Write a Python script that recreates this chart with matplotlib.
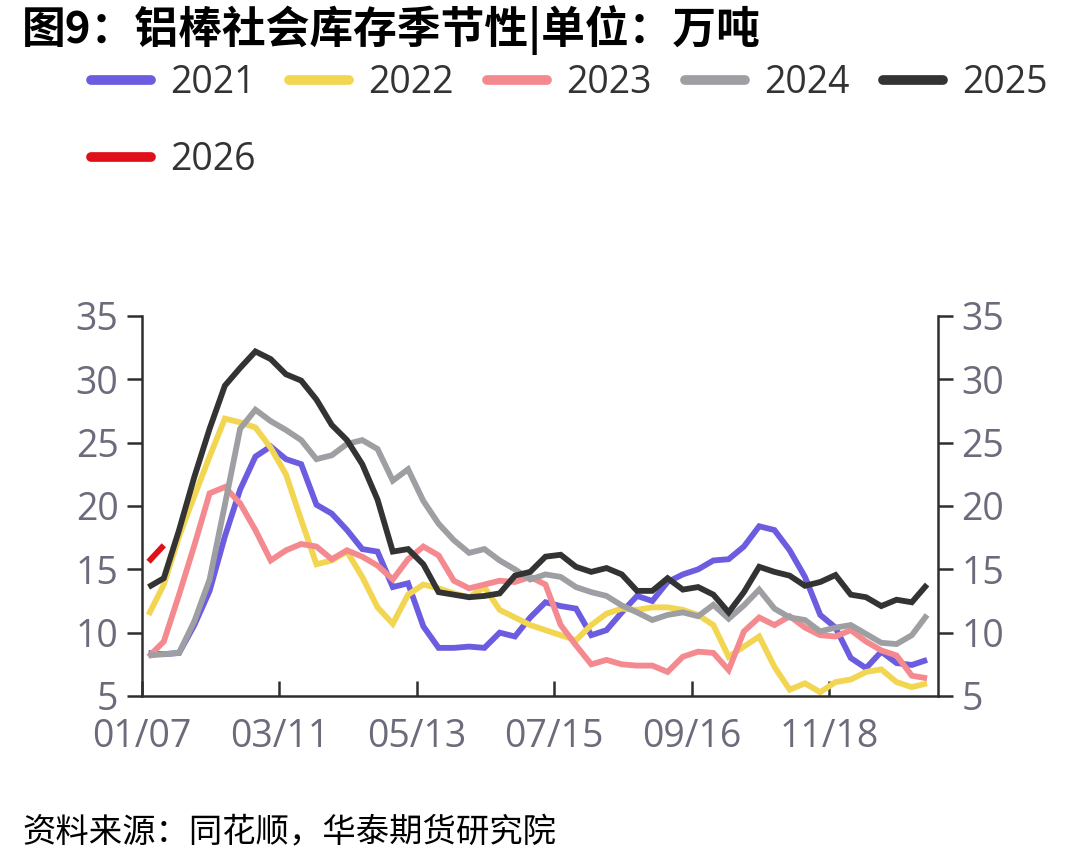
import numpy as np
import matplotlib
matplotlib.use("Agg")
import matplotlib.pyplot as plt

plt.rcParams['font.family'] = ['Noto Sans CJK SC', 'DejaVu Sans']

# weekly readings, 万吨
Y2021 = [8.4, 8.3, 8.4, 10.6, 13.3, 17.6, 21.3, 23.9, 24.7, 23.7,
         23.3, 20.1, 19.4, 18.1, 16.6, 16.4, 13.6, 13.9, 10.5, 8.8,
         8.8, 8.9, 8.8, 10.0, 9.7, 11.2, 12.4, 12.1, 11.9, 9.8,
         10.2, 11.6, 12.9, 12.5, 14.0, 14.6, 15.0, 15.7, 15.8, 16.8,
         18.4, 18.1, 16.5, 14.4, 11.4, 10.4, 8.0, 7.2, 8.5, 7.6,
         7.45, 7.85]
Y2022 = [11.4, 13.8, 17.6, 20.8, 23.9, 26.9, 26.6, 26.2, 24.6, 22.5,
         18.9, 15.4, 15.7, 16.4, 14.4, 12.0, 10.7, 13.0, 13.8, 13.5,
         13.1, 12.8, 13.6, 11.8, 11.2, 10.6, 10.2, 9.8, 9.4, 10.6,
         11.5, 11.9, 11.8, 12.0, 12.0, 11.8, 11.4, 10.6, 8.1, 8.9,
         9.7, 7.3, 5.5, 6.0, 5.3, 6.1, 6.3, 6.9, 7.1, 6.1,
         5.7, 6.0]
Y2023 = [8.1, 9.3, 13.0, 16.9, 21.0, 21.5, 20.2, 18.1, 15.7, 16.5,
         17.0, 16.8, 15.8, 16.5, 16.0, 15.3, 14.2, 15.8, 16.8, 16.1,
         14.1, 13.5, 13.8, 14.1, 14.0, 14.4, 13.8, 10.6, 9.0, 7.5,
         7.85, 7.5, 7.4, 7.4, 6.9, 8.1, 8.5, 8.4, 7.05, 10.1,
         11.2, 10.6, 11.3, 10.4, 9.8, 9.7, 10.2, 9.3, 8.6, 8.2,
         6.6, 6.4]
Y2024 = [8.2, 8.3, 8.4, 10.9, 14.2, 20.1, 26.1, 27.6, 26.7, 26.0,
         25.2, 23.7, 24.0, 24.9, 25.2, 24.5, 22.0, 22.9, 20.4, 18.6,
         17.3, 16.3, 16.6, 15.7, 15.0, 14.2, 14.6, 14.4, 13.6, 13.2,
         12.9, 12.15, 11.6, 11.0, 11.4, 11.6, 11.3, 12.2, 11.1, 12.15,
         13.4, 11.9, 11.2, 11.0, 10.1, 10.4, 10.6, 9.9, 9.2, 9.1,
         9.8, 11.4]
Y2025 = [13.6, 14.3, 18.1, 22.3, 26.1, 29.5, 30.9, 32.2, 31.6, 30.4,
         29.9, 28.4, 26.4, 25.2, 23.3, 20.5, 16.4, 16.6, 15.4, 13.2,
         13.0, 12.8, 12.9, 13.1, 14.5, 14.8, 16.0, 16.15, 15.2, 14.8,
         15.1, 14.6, 13.3, 13.3, 14.3, 13.4, 13.6, 13.0, 11.6, 13.2,
         15.2, 14.8, 14.5, 13.7, 14.0, 14.55, 13.0, 12.8, 12.1, 12.6,
         12.4, 13.8]
Y2026 = [15.6, 16.9]

YEARS = ["2021", "2022", "2023", "2024", "2025", "2026"]
SERIES = [Y2021, Y2022, Y2023, Y2024, Y2025, Y2026]
COLORS = ["#6C5CE0", "#F2D652", "#F48A8F", "#9D9FA2", "#333333", "#E0101A"]

TICK_DAYS = [6, 69, 132, 195, 258, 321]
TICK_LABELS = ["01/07", "03/11", "05/13", "07/15", "09/16", "11/18"]

TICK_COLOR = "#6B6B7B"
SPINE_COLOR = "#2E2E2E"
LATIN = ["Open Sans", "DejaVu Sans"]

fig = plt.figure(figsize=(10.78, 8.66), dpi=100)
ax = fig.add_axes([142 / 1078, 1 - 696 / 866, (938 - 142) / 1078, (696 - 316) / 866])

lines = {}
for year, values, color in zip(YEARS, SERIES, COLORS):
    days = 9 + 7 * np.arange(len(values))
    lines[year], = ax.plot(days, values, color=color, lw=4.2, label=year,
                           solid_joinstyle="miter", solid_capstyle="butt")

ax.set_xlim(6, 371)
ax.set_ylim(5, 35)
ax.set_yticks(range(5, 36, 5))
ax.set_xticks(TICK_DAYS)
ax.set_xticklabels(TICK_LABELS)

ax.spines["top"].set_visible(False)
for side in ("left", "right", "bottom"):
    ax.spines[side].set_color(SPINE_COLOR)
    ax.spines[side].set_linewidth(1.8)

ax.tick_params(axis="y", direction="out", length=11, width=1.8,
               color=SPINE_COLOR, left=True, right=True,
               labelleft=True, labelright=True, pad=6,
               labelsize=27, labelcolor=TICK_COLOR)
ax.tick_params(axis="x", direction="in", length=11, width=1.8,
               color=SPINE_COLOR, pad=16, labelsize=27, labelcolor=TICK_COLOR)
for lab in ax.get_xticklabels() + ax.yaxis.get_ticklabels():
    lab.set_fontfamily(LATIN)
for tick in ax.yaxis.get_major_ticks():
    tick.label2.set_fontfamily(LATIN)

fig.text(22 / 1078, 1 - 30 / 866, "图9：铝棒社会库存季节性|单位：万吨",
         fontsize=31.5, fontweight="bold", color="black", va="center", ha="left")

# legend fills column-wise; order so rows read 2021..2025, then 2026
order = ["2021", "2026", "2022", "2023", "2024", "2025"]
leg = fig.legend([lines[y] for y in order], order,
                 loc="upper left", bbox_to_anchor=(91 / 1078, 1 - 64 / 866),
                 ncol=5, frameon=False, handlelength=1.6,
                 handletextpad=0.5, columnspacing=0.9, labelspacing=1.05,
                 borderpad=0, borderaxespad=0,
                 prop={"family": LATIN, "size": 27})
for line in leg.get_lines():
    line.set_linewidth(7)
    line.set_solid_capstyle("round")
for t in leg.get_texts():
    t.set_color("#333333")

fig.text(22 / 1078, 1 - 833 / 866, "资料来源：同花顺，华泰期货研究院",
         fontsize=24, style="italic", color="black", va="center", ha="left")

fig.savefig("out.png", dpi=100)
